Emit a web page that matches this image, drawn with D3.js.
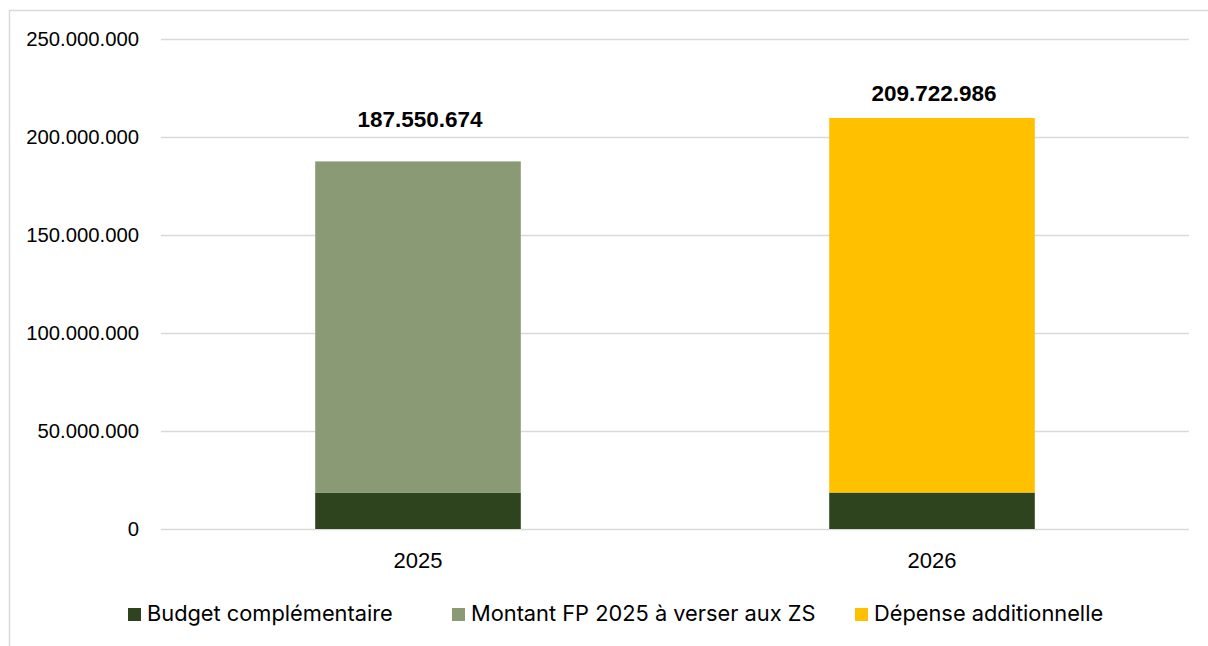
<!DOCTYPE html>
<html>
<head>
<meta charset="utf-8">
<script src="https://cdn.jsdelivr.net/npm/d3@7"></script>
<style>
  body { margin: 0; background: #fff; }
  svg text { fill: #000; }
</style>
</head>
<body>
<div id="chart"></div>
<script>
// data
var years = ["2025", "2026"];
var seriesNames = ["Budget complémentaire", "Montant FP 2025 à verser aux ZS", "Dépense additionnelle"];
var budgetComplementaire = [18600000, 18600000];
var montantFP = [168950674, 0];
var depenseAdditionnelle = [0, 191122986];
var totals = [187550674, 209722986];
var yTicks = [0, 50000000, 100000000, 150000000, 200000000, 250000000];

var colors = ["#2d441e", "#8a9a74", "#ffc000"];
var labelGap = [34, 17];

var width = 1208, height = 646;
var margin = { top: 39, right: 19, bottom: 117, left: 161 };

var svg = d3.select("#chart").append("svg")
    .attr("width", width)
    .attr("height", height);

// chart frame
svg.append("rect")
    .attr("x", 9.5).attr("y", 10.5)
    .attr("width", width + 20).attr("height", height + 20)
    .attr("fill", "none")
    .attr("stroke", "#d9d9d9")
    .attr("stroke-width", 1.5);

var x = d3.scaleBand()
    .domain(years)
    .range([margin.left, width - margin.right])
    .paddingInner(0.6)
    .paddingOuter(0.3);

var y = d3.scaleLinear()
    .domain([0, 250000000])
    .range([height - margin.bottom, margin.top]);

var fmt = function (v) {
    return d3.format(",")(v).replace(/,/g, ".");
};

// gridlines
svg.append("g")
    .selectAll("line")
    .data(yTicks)
    .enter().append("line")
    .attr("x1", margin.left)
    .attr("x2", width - margin.right)
    .attr("y1", function (d) { return Math.round(y(d)) + 0.5; })
    .attr("y2", function (d) { return Math.round(y(d)) + 0.5; })
    .attr("stroke", "#d9d9d9")
    .attr("stroke-width", 1.5);

// y labels
svg.append("g")
    .selectAll("text")
    .data(yTicks)
    .enter().append("text")
    .attr("x", 139)
    .attr("y", function (d) { return y(d) + 7; })
    .attr("text-anchor", "end")
    .style("font-family", "'Liberation Sans', Arial, sans-serif")
    .style("font-size", "20.3px")
    .text(fmt);

// stack
var rows = years.map(function (yr, i) {
    return { year: yr, b: budgetComplementaire[i], m: montantFP[i], d: depenseAdditionnelle[i] };
});
var stack = d3.stack().keys(["b", "m", "d"]);
var layers = stack(rows);

svg.append("g")
    .selectAll("g")
    .data(layers)
    .enter().append("g")
    .attr("fill", function (d, i) { return colors[i]; })
    .selectAll("rect")
    .data(function (d) { return d; })
    .enter().append("rect")
    .attr("x", function (d) { return x(d.data.year); })
    .attr("width", x.bandwidth())
    .attr("y", function (d) { return y(d[1]); })
    .attr("height", function (d) { return y(d[0]) - y(d[1]); });

// total labels
svg.append("g")
    .selectAll("text")
    .data(years)
    .enter().append("text")
    .attr("x", function (d) { return x(d) + x.bandwidth() / 2 + 2; })
    .attr("y", function (d, i) { return y(totals[i]) - labelGap[i]; })
    .attr("text-anchor", "middle")
    .style("font-family", "'Liberation Sans', Arial, sans-serif")
    .style("font-weight", "bold")
    .style("font-size", "22.5px")
    .text(function (d, i) { return fmt(totals[i]); });

// x labels
svg.append("g")
    .selectAll("text")
    .data(years)
    .enter().append("text")
    .attr("x", function (d) { return x(d) + x.bandwidth() / 2; })
    .attr("y", 568)
    .attr("text-anchor", "middle")
    .style("font-family", "'Liberation Sans', Arial, sans-serif")
    .style("font-size", "22px")
    .text(function (d) { return d; });

// legend
var legendX = [128, 452, 855];
var legend = svg.append("g")
    .selectAll("g")
    .data(seriesNames)
    .enter().append("g")
    .attr("transform", function (d, i) { return "translate(" + legendX[i] + ",608)"; });

legend.append("rect")
    .attr("width", 13)
    .attr("height", 13)
    .attr("fill", function (d, i) { return colors[i]; });

legend.append("text")
    .attr("x", 19)
    .attr("y", 13)
    .style("font-family", "Inter, 'Noto Sans', sans-serif")
    .style("font-size", "21.8px")
    .text(function (d) { return d; });
</script>
</body>
</html>
